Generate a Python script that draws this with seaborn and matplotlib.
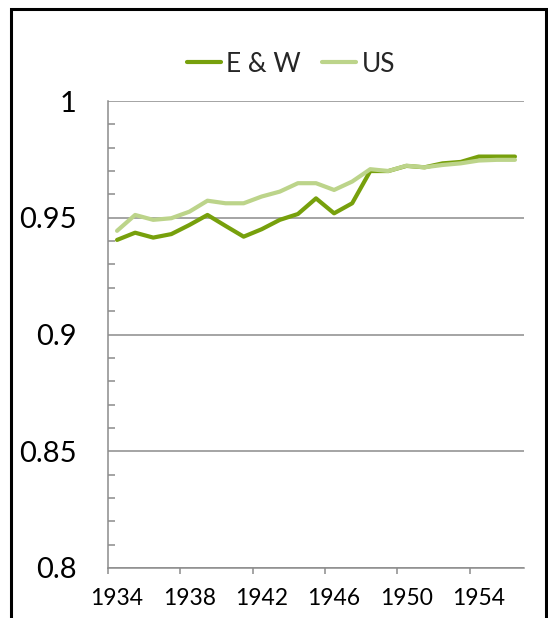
import matplotlib
matplotlib.use("Agg")
import matplotlib.pyplot as plt
import seaborn as sns
import pandas as pd
import numpy as np
from matplotlib.patches import Rectangle
from matplotlib.ticker import MultipleLocator, FixedLocator

years = list(range(1934, 1957))
ew = [0.9405, 0.9436, 0.9415, 0.9430, 0.9469, 0.9512, 0.9465, 0.9419, 0.9451,
      0.9491, 0.9516, 0.9583, 0.9519, 0.9562, 0.9700, 0.9700, 0.9722, 0.9716,
      0.9733, 0.9739, 0.9762, 0.9762, 0.9762]
us = [0.9444, 0.9512, 0.9491, 0.9498, 0.9526, 0.9573, 0.9562, 0.9562, 0.9591,
      0.9612, 0.9648, 0.9648, 0.9619, 0.9655, 0.9708, 0.9700, 0.9723, 0.9716,
      0.9726, 0.9733, 0.9745, 0.9748, 0.9748]
series_names = ["E & W", "US"]
x_labels = ["1934", "1938", "1942", "1946", "1950", "1954"]
y_labels = ["0.8", "0.85", "0.9", "0.95", "1"]

df = pd.DataFrame({
    "year": years * 2,
    "value": ew + us,
    "series": [series_names[0]] * len(years) + [series_names[1]] * len(years),
})

sns.set_theme(style="white")
plt.rcParams['font.family'] = ['Lato', 'DejaVu Sans']

PX = 72 / 100  # points per pixel at dpi 100

fig = plt.figure(figsize=(5.48, 6.18), dpi=100)
ax = fig.add_axes([108 / 548, 1 - 568 / 618, (524 - 108) / 548, (568 - 101) / 618])

palette = {"E & W": "#77A00C", "US": "#BCD48A"}
sns.lineplot(data=df, x="year", y="value", hue="series", palette=palette,
             linewidth=3.0, ax=ax, legend=True, zorder=3)

ax.set_xlim(1933.5, 1956.5)
ax.set_ylim(0.8, 1.0)
ax.set_xlabel("")
ax.set_ylabel("")

grid_c = "#8C8C8C"
lw = 1.1
# y ticks
yvals = [0.8, 0.85, 0.9, 0.95, 1.0]
ax.set_yticks(yvals, y_labels)
ax.yaxis.set_minor_locator(MultipleLocator(0.01))
ax.tick_params(axis="y", which="major", direction="out", length=10 * PX, width=lw,
               color=grid_c, labelsize=21, pad=21 * PX, labelcolor="black")
ax.tick_params(axis="y", which="minor", direction="in", length=7 * PX, width=lw,
               color=grid_c, left=True)
ax.grid(axis="y", which="major", color=grid_c, linewidth=lw)
ax.grid(axis="x", visible=False)

# x ticks: labels at category centers, marks at category boundaries
label_pos = [int(s) for s in x_labels]
ax.set_xticks(label_pos, x_labels)
ax.tick_params(axis="x", which="major", length=0, labelsize=16.5, pad=20 * PX,
               labelcolor="black")
ax.xaxis.set_minor_locator(FixedLocator([p - 0.5 for p in label_pos]))
ax.tick_params(axis="x", which="minor", direction="out", length=6 * PX, width=lw,
               color=grid_c, bottom=True)

for s in ["top", "right"]:
    ax.spines[s].set_visible(False)
for s in ["left", "bottom"]:
    ax.spines[s].set_color(grid_c)
    ax.spines[s].set_linewidth(lw)

handles, labels = ax.get_legend_handles_labels()
leg = ax.legend(handles, labels, loc="center", bbox_to_anchor=(291 / 548, 1 - 64 / 618),
                bbox_transform=fig.transFigure, ncol=2, frameon=False, fontsize=19,
                handlelength=1.3, handletextpad=0.2, columnspacing=0.8)
for line in leg.get_lines():
    line.set_linewidth(3.0)

# chart border
fig.patches.append(Rectangle((11 / 548, -0.1), (546 - 11) / 548, 1 - 9 / 618 + 0.1,
                             transform=fig.transFigure, fill=False,
                             edgecolor="black", linewidth=2.2, zorder=0))

fig.savefig("out.png", dpi=100)
